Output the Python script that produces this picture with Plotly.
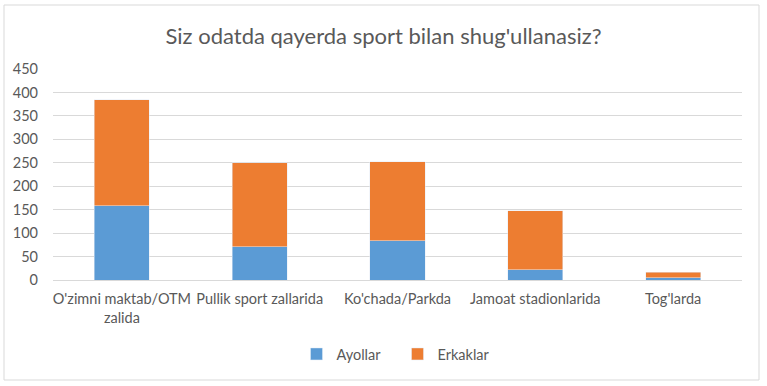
import plotly.graph_objects as go

categories = ["O'zimni maktab/OTM<br>zalida", "Pullik sport zallarida", "Ko'chada/Parkda",
              "Jamoat stadionlarida", "Tog'larda"]
ayollar = [158, 71, 84, 22, 5]
erkaklar = [226, 179, 168, 126, 12]
y_ticks = [0, 50, 100, 150, 200, 250, 300, 350, 400, 450]

FONT = "Lato, 'Open Sans', sans-serif"
GREY = "#595959"

fig = go.Figure()
fig.add_trace(go.Bar(name="Ayollar", x=categories, y=ayollar, marker_color="#5b9bd5"))
fig.add_trace(go.Bar(name="Erkaklar", x=categories, y=erkaklar, marker_color="#ed7d31"))

L, R, T, B = 53, 25, 69, 106
W, H = 767, 386
pw, ph = W - L - R, H - T - B

def px(x):
    return (x - L) / pw

def py(y):
    return (H - B - y) / ph

fig.update_layout(
    barmode="stack",
    bargap=0.6,
    width=W, height=H,
    margin=dict(l=L, r=R, t=T, b=B, pad=0),
    paper_bgcolor="white",
    plot_bgcolor="white",
    font=dict(family=FONT, color=GREY, size=14),
    title=dict(text="Siz odatda qayerda sport bilan shug'ullanasiz?",
               x=0.5, xanchor="center", y=1 - 36 / H, yanchor="middle",
               font=dict(size=22, color=GREY, family=FONT)),
    xaxis=dict(showgrid=False, showline=True, linecolor="#d9d9d9", ticks="",
               ticklabelstandoff=6,
               tickfont=dict(size=14.5, color=GREY)),
    yaxis=dict(range=[0, 450], tickvals=y_ticks, showgrid=True, gridcolor="#d9d9d9",
               zeroline=False, showline=False, ticks="", ticklabelstandoff=14,
               tickfont=dict(size=14.5, color=GREY)),
    legend=dict(orientation="h", x=0.5, xanchor="center", y=py(354), yanchor="middle",
                font=dict(size=14.5, color=GREY), itemwidth=30, traceorder="normal",
                entrywidth=56),
    shapes=[dict(type="rect", xref="paper", yref="paper",
                 x0=px(4), x1=px(759), y0=py(380), y1=py(5),
                 line=dict(color="#d9d9d9", width=1), fillcolor="rgba(0,0,0,0)", layer="below")],
)

fig.write_html("out.html")
